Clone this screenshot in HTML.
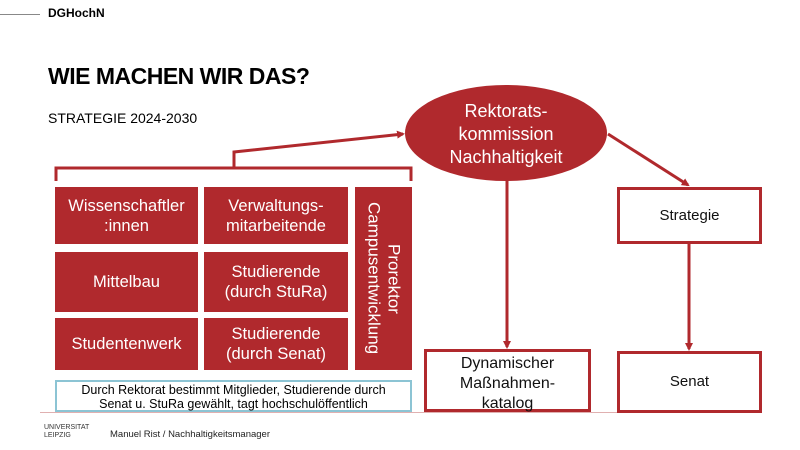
<!DOCTYPE html>
<html><head><meta charset="utf-8"><style>
body{margin:0;width:800px;height:450px;background:#fff;position:relative;overflow:hidden;font-family:"Liberation Sans",sans-serif}
.a{position:absolute}
.rb{position:absolute;background:#b0292d;color:#fff;display:flex;align-items:center;justify-content:center;text-align:center;font-size:16.5px;line-height:20px}
.wb{position:absolute;border:3px solid #b0292d;box-sizing:border-box;background:#fff;display:flex;align-items:center;justify-content:center;text-align:center;font-size:16px;line-height:20px;color:#111}
</style></head><body>
<div class="a" style="left:0;top:14px;width:40px;height:1px;background:#888"></div>
<div class="a" style="left:48px;top:6px;font-size:12px;font-weight:bold">DGHochN</div>
<div class="a" style="left:48px;top:63px;font-size:23px;font-weight:bold;letter-spacing:-0.5px">WIE MACHEN WIR DAS?</div>
<div class="a" style="left:48px;top:110px;font-size:14px">STRATEGIE 2024-2030</div>
<div class="a" style="left:40px;top:412px;width:580px;height:1px;background:#e0b0b0"></div>
<svg class="a" style="left:0;top:0" width="800" height="450">
<defs><marker id="m" markerWidth="8" markerHeight="8" refX="6" refY="4" orient="auto" markerUnits="userSpaceOnUse"><path d="M0,0 L8,4 L0,8z" fill="#b0292d"/></marker></defs>
<g stroke="#b0292d" stroke-width="3" fill="none">
<path d="M56,181 V168 H411 V181"/>
<path d="M234,168 V152 L403,134" marker-end="url(#m)"/>
<path d="M507,180 V347" marker-end="url(#m)"/>
<path d="M608,134 L688,185" marker-end="url(#m)"/>
<path d="M689,243 V349" marker-end="url(#m)"/>
</g>
<ellipse cx="506" cy="133" rx="101" ry="48" fill="#b0292d"/>
<text fill="#fff" font-size="18" text-anchor="middle" font-family="Liberation Sans,sans-serif"><tspan x="506" y="117">Rektorats-</tspan><tspan x="506" y="140">kommission</tspan><tspan x="506" y="163">Nachhaltigkeit</tspan></text>
</svg>
<div class="rb" style="left:55px;top:187px;width:143px;height:57px">Wissenschaftler<br>:innen</div>
<div class="rb" style="left:204px;top:187px;width:144px;height:57px">Verwaltungs-<br>mitarbeitende</div>
<div class="rb" style="left:55px;top:252px;width:143px;height:60px">Mittelbau</div>
<div class="rb" style="left:204px;top:252px;width:144px;height:60px">Studierende<br>(durch StuRa)</div>
<div class="rb" style="left:55px;top:318px;width:143px;height:52px">Studentenwerk</div>
<div class="rb" style="left:204px;top:318px;width:144px;height:52px">Studierende<br>(durch Senat)</div>
<div class="rb" style="left:355px;top:187px;width:57px;height:183px;writing-mode:vertical-rl;font-size:17px">Prorektor<br>Campusentwicklung</div>
<div class="a" style="left:55px;top:380px;width:357px;height:32px;border:2px solid #8cc4d4;box-sizing:border-box;font-size:12.5px;line-height:14px;text-align:center;padding-top:1px">Durch Rektorat bestimmt Mitglieder, Studierende durch<br>Senat u. StuRa gewählt, tagt hochschulöffentlich</div>
<div class="wb" style="left:424px;top:349px;width:167px;height:63px;align-items:flex-start;padding-top:2px">Dynamischer<br>Maßnahmen-<br>katalog</div>
<div class="wb" style="left:617px;top:187px;width:145px;height:57px;font-size:15px">Strategie</div>
<div class="wb" style="left:617px;top:351px;width:145px;height:62px;font-size:15px">Senat</div>
<div class="a" style="left:44px;top:424px;font-size:7px;line-height:8px;color:#333">UNIVERSITAT<br>LEIPZIG</div>
<div class="a" style="left:110px;top:429px;font-size:9.5px;color:#222">Manuel Rist / Nachhaltigkeitsmanager</div>
</body></html>
